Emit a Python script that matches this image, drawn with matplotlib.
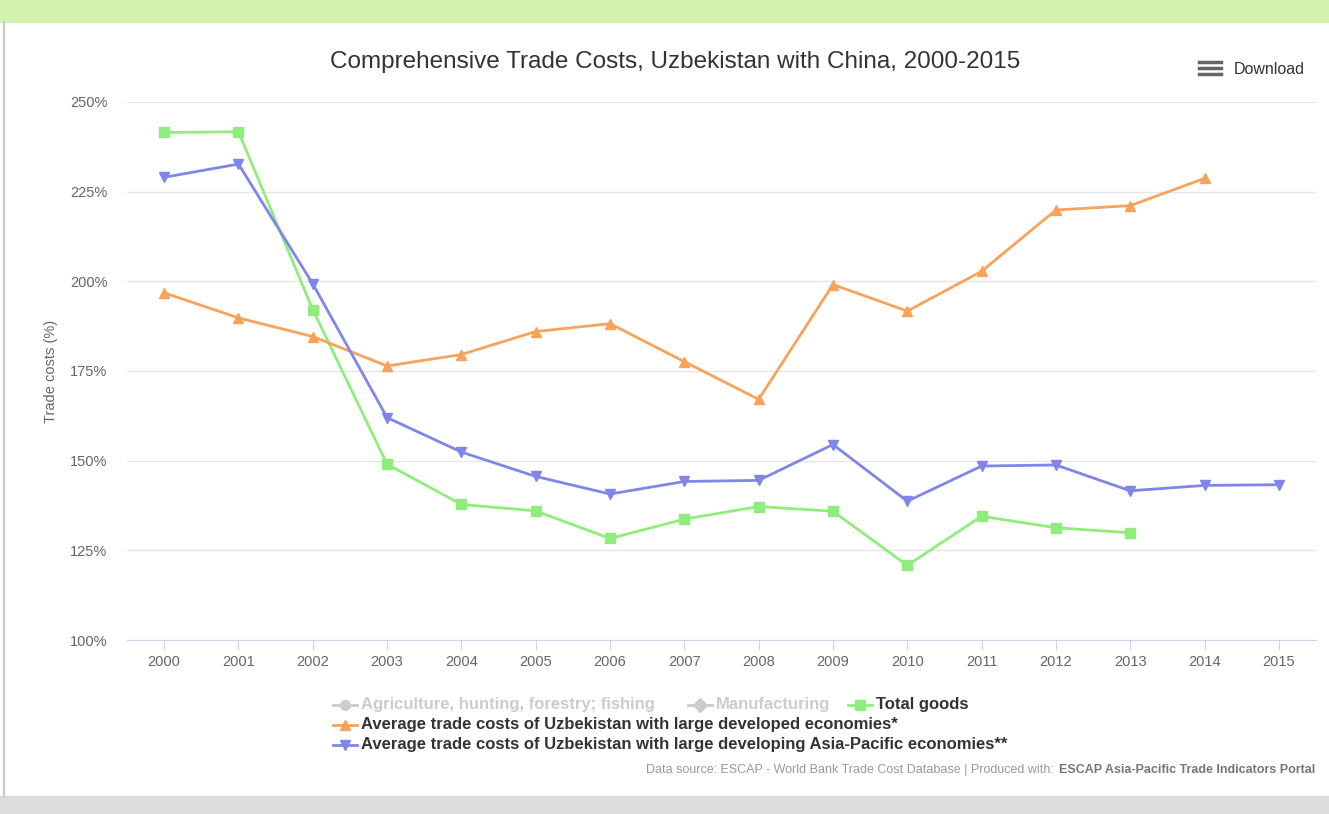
import numpy as np
import matplotlib.pyplot as plt
from matplotlib.lines import Line2D
from matplotlib.patches import Rectangle

plt.rcParams['font.family'] = ['Liberation Sans', 'DejaVu Sans']

years = list(range(2000, 2016))
total_goods = [241.5, 241.7, 192.1, 149.0, 137.8, 136.0, 128.3, 133.7,
               137.2, 135.9, 120.8, 134.5, 131.3, 129.9, None, None]
developed = [196.8, 189.8, 184.6, 176.4, 179.6, 186.0, 188.2, 177.6,
             167.1, 199.1, 191.7, 202.8, 219.9, 221.1, 228.7, None]
asia_pacific = [229.0, 232.7, 199.3, 162.0, 152.4, 145.6, 140.7, 144.2,
                144.5, 154.5, 138.7, 148.5, 148.8, 141.6, 143.1, 143.3]
yticks = [100, 125, 150, 175, 200, 225, 250]

green = '#90ed7d'
orange = '#f7a35c'
blue = '#8085e9'

W, H = 1329, 814
fig = plt.figure(figsize=(W / 100, H / 100), dpi=100)


def fx(x):
    return x / W


def fy(y):
    return 1 - y / H


# page decoration
fig.add_artist(Rectangle((0, fy(22)), 1, 22 / H, transform=fig.transFigure,
                         color='#d4f2b0', zorder=0))
fig.add_artist(Rectangle((0, 0), 1, fy(796), transform=fig.transFigure,
                         color='#dcdcdc', zorder=0))
fig.add_artist(Line2D([fx(4), fx(4)], [fy(796), fy(22)], transform=fig.transFigure,
                      color='#c8c8c8', lw=1.5))

ax = fig.add_axes([fx(127), fy(640), fx(1316) - fx(127), fy(102) - fy(640)])

idx = np.arange(len(years))


def series(vals):
    return np.array([np.nan if v is None else v for v in vals], dtype=float)


ax.plot(idx, series(total_goods), color=green, lw=2, marker='s', ms=7, zorder=3)
ax.plot(idx, series(developed), color=orange, lw=2, marker='^', ms=7, zorder=3)
ax.plot(idx, series(asia_pacific), color=blue, lw=2, marker='v', ms=7, zorder=3)

ax.set_xlim(-0.5, len(years) - 0.5)
ax.set_ylim(100, 250)
ax.set_xticks(idx)
ax.set_xticklabels([str(y) for y in years], fontsize=10.5, color='#666666')
ax.set_yticks(yticks)
ax.set_yticklabels([f'{t}%' for t in yticks], fontsize=10.5, color='#666666')
ax.tick_params(axis='y', length=0, pad=14)
ax.tick_params(axis='x', length=7, color='#ccd6eb', pad=4)
ax.grid(axis='y', color='#e6e6e6', lw=1)
ax.set_axisbelow(True)
for s in ['top', 'right', 'left']:
    ax.spines[s].set_visible(False)
ax.spines['bottom'].set_color('#ccd6eb')
ax.set_ylabel('Trade costs (%)', fontsize=10.5, color='#666666', labelpad=9)

fig.text(fx(675), fy(62), 'Comprehensive Trade Costs, Uzbekistan with China, 2000-2015',
         ha='center', va='center', fontsize=17.5, color='#333333')

# download button
for dy in (-6, 0, 6):
    fig.add_artist(Line2D([fx(1199), fx(1221)], [fy(68 + dy), fy(68 + dy)],
                          transform=fig.transFigure, color='#666666', lw=2.5))
fig.text(fx(1234), fy(69), 'Download', ha='left', va='center', fontsize=11.5, color='#333333')


def legend_item(x, y, color, marker, label, text_color):
    fig.add_artist(Line2D([fx(x), fx(x + 24)], [fy(y), fy(y)], transform=fig.transFigure,
                          color=color, lw=2))
    fig.add_artist(Line2D([fx(x + 12)], [fy(y)], transform=fig.transFigure,
                          color=color, marker=marker, ms=7, lw=0))
    fig.text(fx(x + 28), fy(y), label, ha='left', va='center', fontsize=12,
             fontweight='bold', color=text_color)


legend_item(333, 705, '#cccccc', 'o', 'Agriculture, hunting, forestry; fishing', '#cccccc')
legend_item(688, 705, '#cccccc', 'D', 'Manufacturing', '#cccccc')
legend_item(848, 705, green, 's', 'Total goods', '#333333')
legend_item(333, 725, orange, '^', 'Average trade costs of Uzbekistan with large developed economies*', '#333333')
legend_item(333, 745, blue, 'v', 'Average trade costs of Uzbekistan with large developing Asia-Pacific economies**', '#333333')

t2 = fig.text(fx(1315), fy(770), 'ESCAP Asia-Pacific Trade Indicators Portal', ha='right',
              va='center', fontsize=9, color='#777777', fontweight='bold')
fig.canvas.draw()
bb = t2.get_window_extent()
fig.text(bb.x0 / W - 0.001, fy(770), 'Data source: ESCAP - World Bank Trade Cost Database | Produced with: ',
         ha='right', va='center', fontsize=9, color='#999999')

fig.savefig('out.png', dpi=100, facecolor='white')
